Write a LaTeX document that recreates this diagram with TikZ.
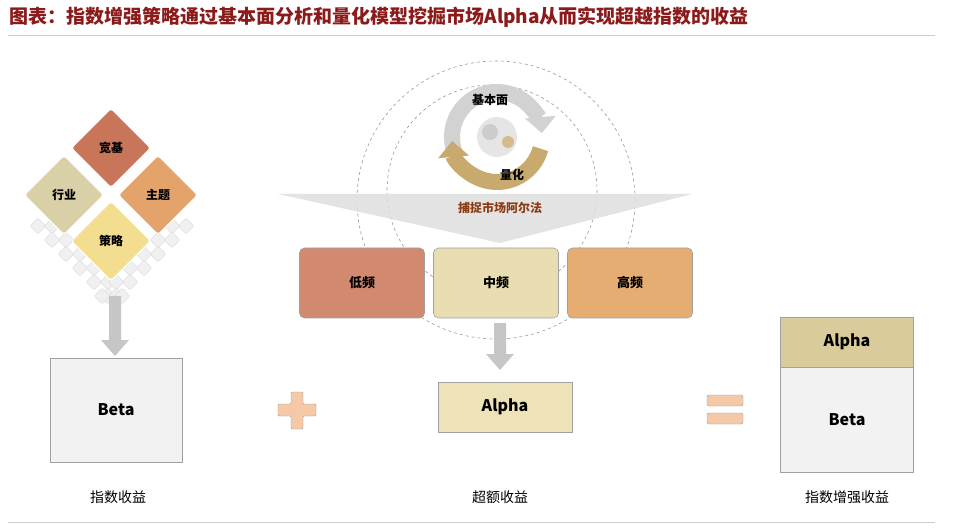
\documentclass[tikz,border=0pt]{standalone}
\usepackage{fontspec}
\setmainfont{Noto Sans CJK SC}
\usetikzlibrary{arrows.meta}
\definecolor{ttl}{HTML}{8B1A1A}
\definecolor{bdr}{HTML}{A0A0A0}
\definecolor{cA}{RGB}{200,117,90}
\definecolor{cB}{RGB}{217,208,168}
\definecolor{cC}{RGB}{227,163,106}
\definecolor{cD}{RGB}{243,221,142}
\definecolor{pk}{RGB}{245,201,168}
\definecolor{tan}{RGB}{200,170,110}
\definecolor{brn}{RGB}{140,60,20}
\definecolor{lo}{RGB}{209,138,112}
\definecolor{md}{RGB}{232,221,176}
\definecolor{hi}{RGB}{230,173,114}
\definecolor{al}{RGB}{237,226,184}
\definecolor{al2}{RGB}{217,204,154}
\tikzset{
 dia/.style={draw=white,line width=1pt,rounded corners=3pt,rotate=45,minimum size=56pt},
 dtxt/.style={font=\fontsize{12}{14}\selectfont\bfseries},
 box/.style={draw=bdr,line width=0.6pt,font=\fontsize{16}{18}\selectfont\bfseries},
 fbox/.style={draw=bdr,line width=0.6pt,rounded corners=5pt,minimum width=125pt,minimum height=70pt,font=\fontsize{13}{15}\selectfont\bfseries},
 lbl/.style={font=\fontsize{14}{16}\selectfont},
 garrow/.style={fill=gray!45,draw=none},
 sq/.style={fill=gray!12,draw=gray!25,rounded corners=1pt,rotate=45,minimum size=11pt,inner sep=0pt},
}
\begin{document}
\begin{tikzpicture}[x=1pt,y=-1pt]
\useasboundingbox (0,0) rectangle (961,529);
\fill[white] (0,0) rectangle (961,529);
\node[anchor=west,text=ttl,font=\fontsize{19}{22}\selectfont\bfseries] (title) at (6,17) {图表：指数增强策略通过基本面分析和量化模型挖掘市场Alpha从而实现超越指数的收益};
\draw[gray!40] (8,35) -- (935,35);
\draw[gray!40] (8,522) -- (935,522);
\foreach \i in {0,...,5} {
  \node[sq] at (38+\i*14,226+\i*14) {};
  \node[sq] at (186-\i*14,226+\i*14) {};
  \node[sq] at (52+\i*14,226+\i*14) {};
  \node[sq] at (172-\i*14,226+\i*14) {};
}
\node[dia,fill=cA] (d1) at (111,148) {};
\node[dtxt] at (d1) {宽基};
\node[dia,fill=cB] (d2) at (64,195) {};
\node[dtxt] at (d2) {行业};
\node[dia,fill=cC] (d3) at (158,195) {};
\node[dtxt] at (d3) {主题};
\node[dia,fill=cD] (d4) at (111,241) {};
\node[dtxt] at (d4) {策略};
\fill[garrow] (109,296) -- (121,296) -- (121,340) -- (129,340) -- (115,356) -- (101,340) -- (109,340) -- cycle;
\node[box,fill=gray!10,minimum width=132pt,minimum height=104pt] (beta) at (116,410) {Beta};
\node[lbl] (l1) at (118,497) {指数收益};
\filldraw[fill=pk,draw=bdr,rounded corners=1pt] (291,392)--(303,392)--(303,404)--(316,404)--(316,416)--(303,416)--(303,429)--(291,429)--(291,416)--(278,416)--(278,404)--(291,404)--cycle;
\draw[dashed,gray!80,line width=0.6pt] (496,200) circle (139);
\draw[dashed,gray!80,line width=0.6pt] (492,190) circle (105);
\fill[gray!20] (497,137) circle (20);
\fill[gray!40] (490,132) circle (8);
\fill[tan!80] (508,142) circle (6);
\draw[gray!35,line width=16pt,-{Triangle[length=16pt,width=30pt]}] (497,137) ++(160:45) arc (160:355:45);
\draw[tan,line width=16pt,-{Triangle[length=16pt,width=30pt]}] (497,137) ++(15:45) arc (15:175:45);
\node[dtxt] (jb) at (490,100) {基本面};
\node[dtxt] (lh) at (512,175) {量化};
\fill[gray!25,opacity=0.85] (278,194) -- (692,194) -- (500,243) -- cycle;
\node[dtxt,text=brn] (cz) at (500,208) {捕捉市场阿尔法};
\node[fbox,fill=lo] (low) at (362,283) {低频};
\node[fbox,fill=md] (mid) at (496,283) {中频};
\node[fbox,fill=hi] (high) at (630,283) {高频};
\fill[garrow] (494,323) -- (506,323) -- (506,354) -- (514,354) -- (500,370) -- (486,354) -- (494,354) -- cycle;
\node[box,fill=al,minimum width=134pt,minimum height=50pt] (alpha) at (505,407) {Alpha};
\node[lbl] (l2) at (500,497) {超额收益};
\filldraw[fill=pk,draw=bdr,rounded corners=1.5pt] (707,395) rectangle (743,406);
\filldraw[fill=pk,draw=bdr,rounded corners=1.5pt] (707,413) rectangle (743,424);
\node[box,fill=al2,minimum width=133pt,minimum height=50pt] (a2) at (847,342) {Alpha};
\node[box,fill=gray!10,minimum width=133pt,minimum height=105pt,anchor=north] (b2) at (a2.south) {Beta};
\node[lbl] (l3) at (847,497) {指数增强收益};
\end{tikzpicture}
\end{document}
